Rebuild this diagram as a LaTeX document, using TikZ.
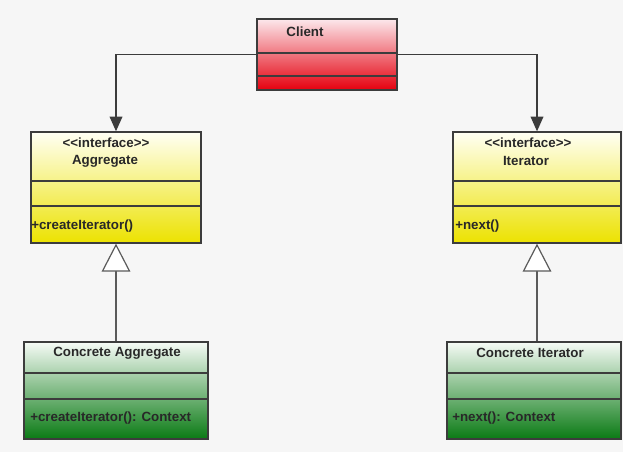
\documentclass[tikz,border=0pt]{standalone}
\usepackage{fontspec}
\setmainfont[Ligatures=NoCommon]{Liberation Sans}
\usetikzlibrary{arrows.meta}
\definecolor{bgcol}{RGB}{246,246,246}
\definecolor{edge}{RGB}{60,60,60}
\definecolor{edge2}{RGB}{90,90,90}
\definecolor{txt}{RGB}{40,40,40}
\definecolor{redtop}{RGB}{252,232,236}
\definecolor{redmid}{RGB}{238,90,100}
\definecolor{redbot}{RGB}{228,0,14}
\definecolor{yeltop}{RGB}{255,255,244}
\definecolor{yelmid}{RGB}{247,242,120}
\definecolor{yelbot}{RGB}{236,226,0}
\definecolor{grntop}{RGB}{246,251,246}
\definecolor{grnmid}{RGB}{125,190,125}
\definecolor{grnbot}{RGB}{10,122,20}
\begin{document}
\begin{tikzpicture}[x=0.75pt,y=-0.75pt,
  box/.style={draw=edge, line width=1pt, rectangle, inner sep=0pt},
  lbl/.style={font=\bfseries\fontsize{10}{12}\selectfont, text=txt, inner sep=0pt},
  assoc/.style={draw=edge, line width=1pt, -{Triangle[length=11pt,width=9.5pt]}},
  inherit/.style={draw=edge2, line width=0.9pt, -{Triangle[length=21pt,width=21.5pt,fill=white]}},
  divider/.style={draw=edge, line width=1pt}]
\fill[bgcol] (0,0) rectangle (623,452);
\useasboundingbox (0,0) rectangle (623,452);

% class boxes
\node[box, top color=redtop, middle color=redmid, bottom color=redbot, minimum width=140*0.75pt, minimum height=71*0.75pt] (client) at (327,54.5) {};
\node[box, top color=yeltop, middle color=yelmid, bottom color=yelbot, minimum width=170*0.75pt, minimum height=111*0.75pt] (agg) at (116,187.5) {};
\node[box, top color=yeltop, middle color=yelmid, bottom color=yelbot, minimum width=168*0.75pt, minimum height=111*0.75pt] (iter) at (537,187.5) {};
\node[box, top color=grntop, middle color=grnmid, bottom color=grnbot, minimum width=184*0.75pt, minimum height=97*0.75pt] (cagg) at (116,390.5) {};
\node[box, top color=grntop, middle color=grnmid, bottom color=grnbot, minimum width=174*0.75pt, minimum height=97*0.75pt] (cit) at (534,390.5) {};

% compartment dividers
\draw[divider] (client.west |- 0,53) -- (client.east |- 0,53);
\draw[divider] (client.west |- 0,76) -- (client.east |- 0,76);
\draw[divider] (agg.west |- 0,181) -- (agg.east |- 0,181);
\draw[divider] (agg.west |- 0,206) -- (agg.east |- 0,206);
\draw[divider] (iter.west |- 0,181) -- (iter.east |- 0,181);
\draw[divider] (iter.west |- 0,206) -- (iter.east |- 0,206);
\draw[divider] (cagg.west |- 0,373) -- (cagg.east |- 0,373);
\draw[divider] (cagg.west |- 0,399) -- (cagg.east |- 0,399);
\draw[divider] (cit.west |- 0,373) -- (cit.east |- 0,373);
\draw[divider] (cit.west |- 0,399) -- (cit.east |- 0,399);

% texts
\node[lbl] (tclient) at (305,32) {Client};
\node[lbl] (taggs) at (106,143) {{<}{<}interface{>}{>}};
\node[lbl] (taggn) at (105,161) {Aggregate};
\node[lbl, anchor=west] (taggm) at (31,226) {+createIterator()};
\node[lbl] (titers) at (528,143) {{<}{<}interface{>}{>}};
\node[lbl] (titern) at (526,161) {Iterator};
\node[lbl, anchor=west] (titerm) at (455,226) {+next()};
\node[lbl] (tcaggn) at (117,353) {Concrete Aggregate};
\node[lbl, anchor=west] (tcaggm) at (30,418) {+createIterator(): Context};
\node[lbl] (tcitn) at (530,353) {Concrete Iterator};
\node[lbl, anchor=west] (tcitm) at (452,418) {+next(): Context};

% connectors
\draw[assoc] (client.west) -| (agg.north);
\draw[assoc] (client.east) -| (iter.north);
\draw[inherit] (cagg.north) -- (agg.south);
\draw[inherit] (iter.south |- cit.north) -- (iter.south);
\end{tikzpicture}
\end{document}
